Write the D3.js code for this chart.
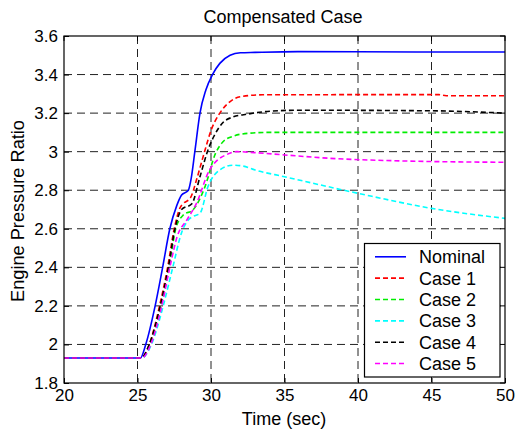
<!DOCTYPE html>
<html><head><meta charset="utf-8">
<script src="https://cdn.jsdelivr.net/npm/d3@7"></script>
<style>body{margin:0;background:#fff;} svg{display:block;font-family:"Liberation Sans",Arial,sans-serif;}</style>
</head><body>
<svg id="c" width="518" height="433"></svg>
<script>
const seriesNames = ["Nominal","Case 1","Case 2","Case 3","Case 4","Case 5"];
const seriesColors = ["#0000ff","#ff0000","#00ee00","#00ffff","#000000","#ff00ff"];
const xTicks = [20,25,30,35,40,45,50];
const yTicks = [1.8,2,2.2,2.4,2.6,2.8,3,3.2,3.4,3.6];

const tNominal = [20,25.2,25.56,26.2,26.71,27.2,27.67,28.0,28.46,28.65,28.9,29.25,29.65,30.1,30.6,31.3,32.0,33.0,35.9,44,50];
const vNominal = [1.93,1.93,2.0,2.2,2.4,2.6,2.72,2.775,2.80,2.86,3.0,3.2,3.32,3.4,3.458,3.50,3.513,3.515,3.519,3.517,3.517];
const tCase1 = [20,25.25,25.8,26.5,27.05,27.5,27.9,28.1,28.6,29.0,29.3,29.6,30.0,30.6,31.3,32.0,33.5,45.5,46,50];
const vCase1 = [1.93,1.93,2.0,2.2,2.4,2.6,2.71,2.73,2.76,2.85,2.93,3.01,3.11,3.2,3.26,3.285,3.295,3.296,3.29,3.29];
const tCase2 = [20,25.3,25.85,26.6,27.15,27.6,28.1,28.8,29.6,30.3,30.8,31.5,32.5,34,50];
const vCase2 = [1.93,1.93,2.0,2.2,2.4,2.6,2.67,2.70,2.82,2.99,3.05,3.08,3.095,3.1,3.1];
const tCase3 = [20,25.3,25.95,26.75,27.4,28.0,28.46,28.8,29.25,29.8,30.6,31.5,32.2,33,35,40,45,50];
const vCase3 = [1.93,1.93,2.0,2.2,2.4,2.58,2.646,2.665,2.68,2.82,2.905,2.93,2.925,2.905,2.87,2.784,2.706,2.654];
const tCase4 = [20,25.25,25.8,26.55,27.1,27.55,28.0,28.7,29.25,29.8,30.2,30.8,31.5,32.5,34,36,45,50];
const vCase4 = [1.93,1.93,2.0,2.2,2.4,2.6,2.70,2.73,2.87,3.01,3.08,3.15,3.18,3.195,3.21,3.215,3.212,3.2];
const tCase5 = [20,25.3,25.9,26.65,27.2,27.7,28.35,29.0,29.9,30.5,31.07,31.75,33,35,38,43,50];
const vCase5 = [1.93,1.93,2.0,2.2,2.4,2.56,2.645,2.73,2.905,2.96,2.985,3.0,2.995,2.983,2.966,2.952,2.945];

const times = [tNominal,tCase1,tCase2,tCase3,tCase4,tCase5];
const vals = [vNominal,vCase1,vCase2,vCase3,vCase4,vCase5];

const svg = d3.select("#c");
const L=64,R=505,T=36,B=383;
const x = d3.scaleLinear().domain([20,50]).range([L,R]);
const y = d3.scaleLinear().domain([1.8,3.6]).range([B,T]);

// grid
const g = svg.append("g");
xTicks.slice(1,-1).forEach(t=>g.append("line").attr("x1",x(t)).attr("x2",x(t)).attr("y1",T).attr("y2",B)
  .attr("stroke","#222").attr("stroke-width",1).attr("stroke-dasharray","8,5"));
yTicks.slice(1,-1).forEach(t=>g.append("line").attr("x1",L).attr("x2",R).attr("y1",y(t)).attr("y2",y(t))
  .attr("stroke","#222").attr("stroke-width",1).attr("stroke-dasharray","8,5"));

// series
const line = d3.line().x(d=>x(d[0])).y(d=>y(d[1])).curve(d3.curveMonotoneX);
svg.append("clipPath").attr("id","pc").append("rect").attr("x",L).attr("y",T).attr("width",R-L).attr("height",B-T);
seriesNames.forEach((n,i)=>{
  const pts = times[i].map((t,j)=>[t,vals[i][j]]);
  svg.append("path").attr("d",line(pts)).attr("fill","none").attr("stroke",seriesColors[i])
    .attr("stroke-width",1.6).attr("stroke-dasharray", i===0?null:"5,3").attr("clip-path","url(#pc)");
});

// axes
const xa = svg.append("g").attr("transform",`translate(0,${B})`).call(d3.axisBottom(x).tickValues(xTicks).tickSize(-5).tickPadding(6).tickFormat(d3.format("d")));
const ya = svg.append("g").attr("transform",`translate(${L},0)`).call(d3.axisLeft(y).tickValues(yTicks).tickSize(-5).tickPadding(6).tickFormat(d=>String(+d.toFixed(1))));
[xa,ya].forEach(a=>{a.select(".domain").remove(); a.selectAll("line").attr("stroke","#000");
  a.selectAll("text").attr("font-size",17).attr("fill","#000").attr("font-family","Liberation Sans, Arial, sans-serif");});
xTicks.forEach(t=>svg.append("line").attr("x1",x(t)).attr("x2",x(t)).attr("y1",T).attr("y2",T+5).attr("stroke","#000"));
yTicks.forEach(t=>svg.append("line").attr("x1",R).attr("x2",R-5).attr("y1",y(t)).attr("y2",y(t)).attr("stroke","#000"));
svg.append("rect").attr("x",L).attr("y",T).attr("width",R-L).attr("height",B-T).attr("fill","none").attr("stroke","#000").attr("stroke-width",1.2);

// labels
svg.append("text").attr("x",283).attr("y",23).attr("text-anchor","middle").attr("font-size",18).text("Compensated Case");
svg.append("text").attr("x",284).attr("y",425).attr("text-anchor","middle").attr("font-size",18).text("Time (sec)");
svg.append("text").attr("transform",`translate(24,211) rotate(-90)`).attr("text-anchor","middle").attr("font-size",18.2).text("Engine Pressure Ratio");

// legend
const lg = svg.append("g");
lg.append("rect").attr("x",364.5).attr("y",243.5).attr("width",135.5).attr("height",133.5).attr("fill","#fff").attr("stroke","#000").attr("stroke-width",1.2);
seriesNames.forEach((n,i)=>{
  const yy = 256.8 + i*21.35;
  lg.append("line").attr("x1",375).attr("x2",406).attr("y1",yy).attr("y2",yy).attr("stroke",seriesColors[i])
    .attr("stroke-width",1.6).attr("stroke-dasharray", i===0?null:"5,3");
  lg.append("text").attr("x",419).attr("y",yy+6.5).attr("font-size",18).text(n);
});
</script>
</body></html>
